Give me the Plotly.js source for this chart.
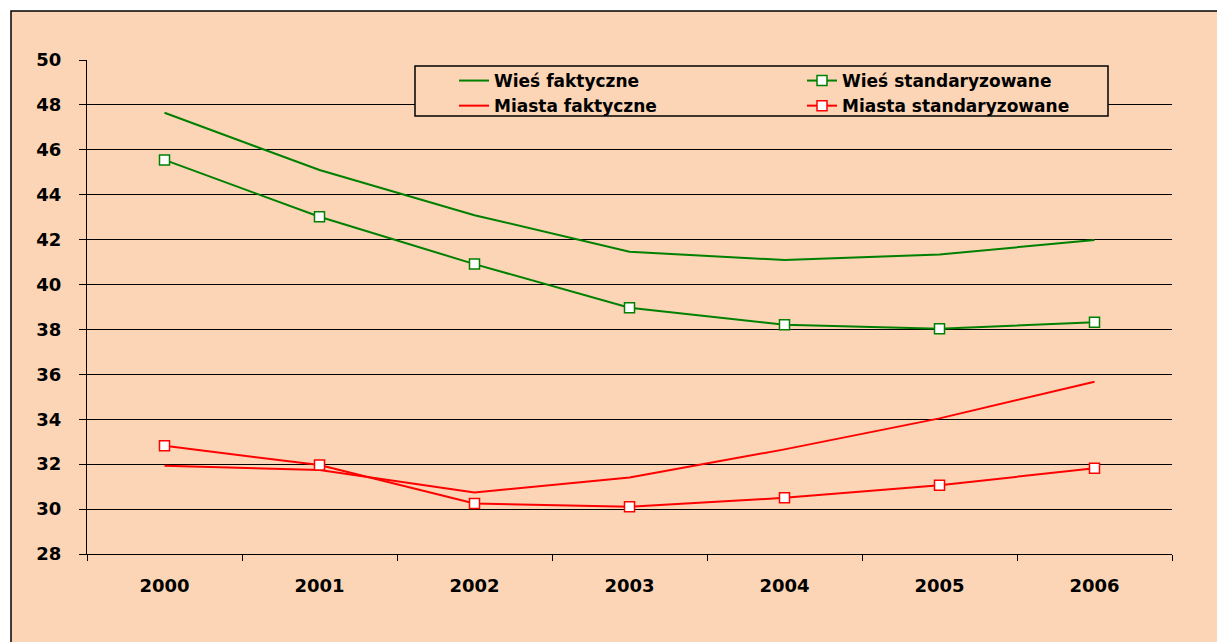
<!DOCTYPE html>
<html>
<head>
<meta charset="utf-8">
<script src="https://cdn.plot.ly/plotly-3.0.1.min.js"></script>
<style>
html,body{margin:0;padding:0;background:#ffffff;}
#chart{width:1217px;height:642px;}
</style>
</head>
<body>
<div id="chart"></div>
<script>
const years = ['2000','2001','2002','2003','2004','2005','2006'];
const wiesFaktyczne = [47.65, 45.10, 43.09, 41.46, 41.09, 41.34, 41.98];
const wiesStandaryzowane = [45.55, 43.02, 40.91, 38.97, 38.21, 38.03, 38.32];
const miastaFaktyczne = [31.93, 31.74, 30.74, 31.41, 32.66, 34.04, 35.67];
const miastaStandaryzowane = [32.82, 31.96, 30.25, 30.10, 30.50, 31.06, 31.82];
const seriesNames = ['Wieś faktyczne','Wieś standaryzowane','Miasta faktyczne','Miasta standaryzowane'];
const yTicks = [28,30,32,34,36,38,40,42,44,46,48,50];

const GREEN = '#008000', RED = '#ff0000', PEACH = '#fbd5b5';

const W = 1217, H = 642, mL = 87, mR = 45, mT = 60, mB = 88;
const pw = W - mL - mR, ph = H - mT - mB;
const px = x => (x - mL) / pw;
const py = y => (H - mB - y) / ph;

function lineTrace(name, y, color){
  return {x: years, y: y, name: name, type: 'scatter', mode: 'lines',
    line: {color: color, width: 2}, hoverinfo: 'skip', legend: 'legend'};
}
function markerTrace(name, y, color){
  return {x: years, y: y, name: name, type: 'scatter', mode: 'lines+markers',
    line: {color: color, width: 2},
    marker: {symbol: 'square', size: 10, color: '#ffffff', line: {color: color, width: 1.5}},
    hoverinfo: 'skip', legend: 'legend2'};
}

const data = [
  lineTrace(seriesNames[0], wiesFaktyczne, GREEN),
  markerTrace(seriesNames[1], wiesStandaryzowane, GREEN),
  lineTrace(seriesNames[2], miastaFaktyczne, RED),
  markerTrace(seriesNames[3], miastaStandaryzowane, RED)
];

const tickFont = {family: 'DejaVu Sans', size: 18, color: '#000000', weight: 'bold'};
const legendFont = {family: 'DejaVu Sans, sans-serif', size: 17, color: '#000000', weight: 'bold'};

function legendAt(xLeft){
  return {
    orientation: 'v', x: px(xLeft), xanchor: 'left', y: py(63), yanchor: 'top',
    bgcolor: 'rgba(0,0,0,0)', borderwidth: 0, traceorder: 'normal',
    itemwidth: 30, tracegroupgap: 0, font: legendFont
  };
}

const layout = {
  width: W, height: H,
  margin: {l: mL, r: mR, t: mT, b: mB, pad: 0, autoexpand: false},
  paper_bgcolor: 'rgba(0,0,0,0)',
  plot_bgcolor: 'rgba(0,0,0,0)',
  showlegend: true,
  legend: legendAt(454),
  legend2: legendAt(802),
  xaxis: {
    type: 'category', range: [-0.5, 6.5], tickson: 'boundaries',
    ticks: 'outside', ticklen: 6, tickwidth: 1, tickcolor: '#000000',
    showline: true, linecolor: '#000000', linewidth: 1, showgrid: false, zeroline: false,
    tickfont: tickFont, ticklabelstandoff: 15, fixedrange: true
  },
  xaxis2: {
    overlaying: 'x', type: 'linear', range: [-0.5, 6.5], tick0: -0.5, dtick: 1,
    ticks: 'inside', ticklen: 6, tickwidth: 1, tickcolor: '#000000',
    showticklabels: false, showgrid: false, zeroline: false, showline: false,
    side: 'bottom', anchor: 'y', fixedrange: true
  },
  yaxis: {
    range: [28, 50], tickvals: yTicks, ticktext: yTicks.map(String),
    ticks: 'outside', ticklen: 7, tickwidth: 1, tickcolor: '#000000',
    showline: true, linecolor: '#000000', linewidth: 1,
    showgrid: true, gridcolor: '#000000', gridwidth: 1, zeroline: false,
    tickfont: tickFont, ticklabelstandoff: 14, fixedrange: true
  },
  shapes: [
    {type: 'rect', xref: 'paper', yref: 'paper', layer: 'below',
     x0: px(11), x1: px(1230), y0: py(11), y1: py(660),
     fillcolor: PEACH, line: {color: '#000000', width: 1.5}},
    {type: 'rect', xref: 'paper', yref: 'paper', layer: 'above',
     x0: px(415), x1: px(1108), y0: py(66), y1: py(116),
     fillcolor: PEACH, line: {color: '#000000', width: 1.5}}
  ]
};

Plotly.newPlot('chart', data, layout, {staticPlot: true, displayModeBar: false});
</script>
</body>
</html>
